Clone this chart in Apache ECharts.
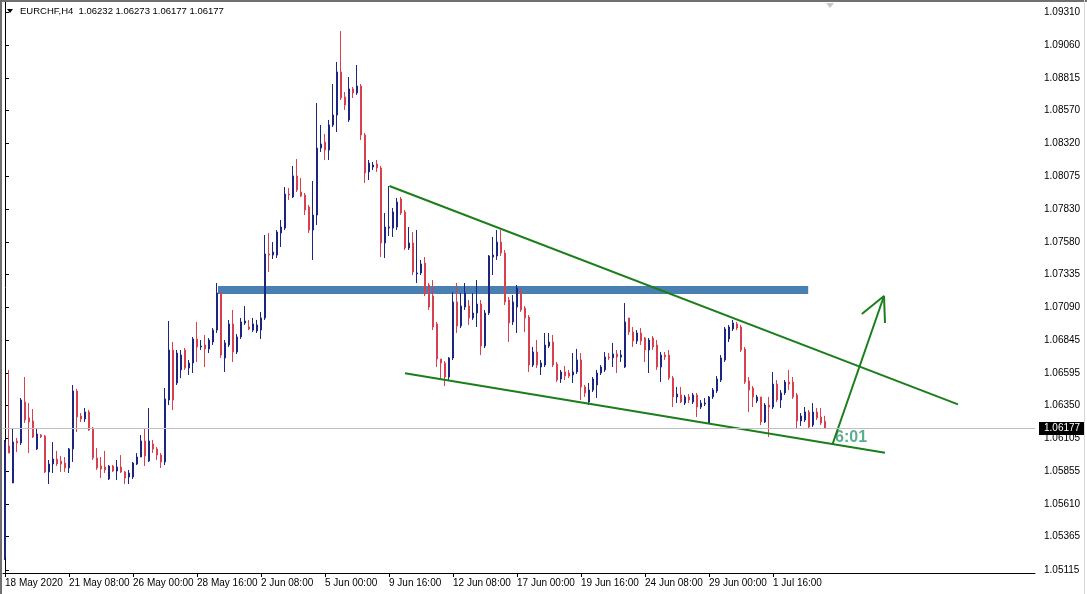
<!DOCTYPE html>
<html><head><meta charset="utf-8">
<script src="https://cdn.jsdelivr.net/npm/echarts@6/dist/echarts.min.js"></script>
<style>html,body{margin:0;padding:0;background:#fff}#c{width:1087px;height:594px}</style>
</head><body><div id="c"></div>
<script>
const symbolTitle = 'EURCHF,H4  1.06232 1.06273 1.06177 1.06177';
const countdownText = '6:01';
const opens = [1.05204,1.06046,1.05768,1.06084,1.06069,1.06377,1.06257,1.06234,1.06024,1.06129,
1.06121,1.05851,1.05911,1.05948,1.05933,1.05918,1.05881,1.06024,1.06460,1.06272,
1.06249,1.06302,1.06181,1.05956,1.05896,1.05888,1.05798,1.05896,1.05858,1.05888,
1.05851,1.05813,1.05813,1.05911,1.05963,1.06084,1.05933,1.06061,1.06024,1.05978,
1.05926,1.06392,1.06768,1.06520,1.06618,1.06768,1.06633,1.06670,1.06851,1.06791,
1.06806,1.06776,1.06828,1.06918,1.07197,1.06708,1.06806,1.06964,1.06753,1.06866,
1.06971,1.06941,1.06918,1.06911,1.06918,1.07009,1.07490,1.07482,1.07482,1.07648,
1.07685,1.07941,1.07919,1.08077,1.07956,1.07934,1.07843,1.07670,1.07783,1.08287,
1.08332,1.08272,1.08460,1.08535,1.08859,1.08671,1.08498,1.08731,1.08701,1.08753,
1.08385,1.08107,1.08144,1.08167,1.08137,1.07573,1.07685,1.07685,1.07693,1.07904,
1.07806,1.07535,1.07573,1.07340,1.07347,1.07422,1.07257,1.07174,1.06964,1.06700,
1.06670,1.06565,1.06708,1.07129,1.06949,1.07091,1.07099,1.07009,1.07046,1.07114,
1.06798,1.07046,1.07467,1.07475,1.07580,1.07497,1.07144,1.06979,1.07091,1.07204,
1.07084,1.07016,1.06655,1.06753,1.06640,1.06655,1.06798,1.06828,1.06663,1.06550,
1.06603,1.06595,1.06580,1.06603,1.06693,1.06490,1.06377,1.06467,1.06505,1.06595,
1.06618,1.06715,1.06708,1.06738,1.06715,1.06640,1.07009,1.06903,1.06836,1.06896,
1.06858,1.06768,1.06858,1.06806,1.06640,1.06730,1.06730,1.06557,1.06415,1.06430,
1.06369,1.06415,1.06377,1.06430,1.06339,1.06362,1.06219,1.06415,1.06460,1.06542,
1.06693,1.06851,1.06926,1.06964,1.06941,1.06776,1.06535,1.06482,1.06385,1.06415,
1.06227,1.06354,1.06339,1.06512,1.06392,1.06445,1.06527,1.06527,1.06430,1.06234,
1.06242,1.06302,1.06204,1.06302,1.06264,1.06232];
const closes = [1.06076,1.05993,1.06076,1.06069,1.06392,1.06242,1.06227,1.06114,1.06136,1.06114,
1.05851,1.05911,1.05948,1.05911,1.05911,1.05881,1.06024,1.06460,1.06264,1.06249,
1.06302,1.06166,1.05956,1.05881,1.05873,1.05866,1.05896,1.05858,1.05888,1.05851,
1.05805,1.05843,1.05918,1.05963,1.06084,1.05971,1.06084,1.06024,1.05978,1.05926,
1.06400,1.06768,1.06392,1.06745,1.06730,1.06633,1.06670,1.06851,1.06791,1.06798,
1.06776,1.06843,1.06918,1.07197,1.06730,1.06821,1.06964,1.06753,1.06866,1.06979,
1.06986,1.06926,1.06964,1.06956,1.07009,1.07490,1.07482,1.07505,1.07655,1.07693,
1.07941,1.07934,1.08077,1.07971,1.07926,1.07821,1.07670,1.07783,1.08287,1.08317,
1.08272,1.08460,1.08535,1.08859,1.08663,1.08610,1.08731,1.08701,1.08753,1.08385,
1.08099,1.08174,1.08159,1.08137,1.07573,1.07693,1.07693,1.07806,1.07881,1.07798,
1.07535,1.07573,1.07355,1.07347,1.07415,1.07189,1.07091,1.06941,1.06700,1.06670,
1.06565,1.06708,1.07129,1.06949,1.07099,1.07197,1.07009,1.07046,1.07114,1.06798,
1.07046,1.07475,1.07482,1.07580,1.07497,1.07129,1.06971,1.07129,1.07234,1.07069,
1.07009,1.06655,1.06753,1.06655,1.06670,1.06806,1.06828,1.06655,1.06542,1.06603,
1.06572,1.06572,1.06603,1.06693,1.06490,1.06445,1.06467,1.06550,1.06595,1.06640,
1.06715,1.06708,1.06738,1.06715,1.06730,1.06979,1.06903,1.06836,1.06896,1.06836,
1.06768,1.06843,1.06791,1.06640,1.06730,1.06715,1.06557,1.06415,1.06437,1.06377,
1.06415,1.06392,1.06430,1.06339,1.06369,1.06369,1.06415,1.06467,1.06550,1.06708,
1.06926,1.06941,1.06971,1.06933,1.06768,1.06527,1.06467,1.06415,1.06415,1.06227,
1.06354,1.06339,1.06512,1.06392,1.06445,1.06527,1.06512,1.06415,1.06234,1.06272,
1.06302,1.06189,1.06302,1.06257,1.06219,1.06177];
const lows = [1.05189,1.05993,1.05768,1.06001,1.06054,1.06219,1.05993,1.06106,1.06016,1.06106,
1.05843,1.05760,1.05843,1.05896,1.05851,1.05851,1.05843,1.05926,1.06151,1.06227,
1.06227,1.06159,1.05941,1.05866,1.05805,1.05843,1.05790,1.05851,1.05790,1.05843,
1.05760,1.05760,1.05798,1.05903,1.05963,1.05896,1.05926,1.05993,1.05941,1.05881,
1.05903,1.06354,1.06317,1.06505,1.06557,1.06618,1.06580,1.06595,1.06678,1.06768,
1.06640,1.06745,1.06806,1.06896,1.06708,1.06603,1.06791,1.06678,1.06738,1.06851,
1.06956,1.06918,1.06903,1.06896,1.06851,1.06994,1.07355,1.07452,1.07460,1.07543,
1.07670,1.07896,1.07911,1.07956,1.07919,1.07783,1.07648,1.07445,1.07708,1.08257,
1.08197,1.08197,1.08445,1.08407,1.08648,1.08573,1.08483,1.08663,1.08686,1.08347,
1.08024,1.08046,1.08122,1.08107,1.07467,1.07460,1.07625,1.07618,1.07670,1.07783,
1.07520,1.07520,1.07332,1.07272,1.07332,1.07174,1.07069,1.06918,1.06640,1.06550,
1.06497,1.06542,1.06693,1.06896,1.06933,1.07069,1.06956,1.06994,1.06941,1.06730,
1.06783,1.07031,1.07332,1.07445,1.07475,1.07106,1.06828,1.06956,1.06896,1.07054,
1.06903,1.06603,1.06640,1.06633,1.06580,1.06640,1.06783,1.06640,1.06527,1.06520,
1.06542,1.06557,1.06520,1.06588,1.06392,1.06415,1.06354,1.06452,1.06407,1.06580,
1.06603,1.06693,1.06640,1.06595,1.06678,1.06633,1.06881,1.06791,1.06813,1.06806,
1.06678,1.06595,1.06768,1.06618,1.06527,1.06693,1.06542,1.06339,1.06369,1.06369,
1.06354,1.06369,1.06362,1.06264,1.06324,1.06347,1.06212,1.06400,1.06445,1.06527,
1.06678,1.06828,1.06911,1.06918,1.06753,1.06512,1.06302,1.06339,1.06369,1.06204,
1.06219,1.06114,1.06324,1.06377,1.06332,1.06430,1.06467,1.06400,1.06174,1.06197,
1.06227,1.06181,1.06189,1.06242,1.06204,1.06177];
const highs = [1.06091,1.06618,1.06181,1.06106,1.06407,1.06565,1.06369,1.06324,1.06174,1.06136,
1.06129,1.05941,1.06076,1.06009,1.05971,1.05963,1.06031,1.06505,1.06475,1.06294,
1.06332,1.06317,1.06189,1.06031,1.05963,1.06009,1.05903,1.05903,1.05941,1.05978,
1.05858,1.05866,1.05926,1.05993,1.06129,1.06174,1.06332,1.06091,1.06039,1.05993,
1.06482,1.06986,1.06828,1.06768,1.06768,1.06783,1.06693,1.06866,1.06979,1.06843,
1.06881,1.06858,1.06933,1.07272,1.07204,1.06843,1.06994,1.07069,1.06888,1.07009,
1.07099,1.06994,1.07009,1.06994,1.07054,1.07633,1.07648,1.07580,1.07670,1.07746,
1.07994,1.07986,1.08152,1.08204,1.08061,1.07949,1.07858,1.08039,1.08625,1.08460,
1.08392,1.08498,1.08768,1.08934,1.09167,1.08708,1.08821,1.08746,1.08911,1.08768,
1.08400,1.08197,1.08182,1.08197,1.08152,1.07798,1.08001,1.07836,1.07911,1.07919,
1.07821,1.07693,1.07655,1.07670,1.07445,1.07467,1.07272,1.07294,1.06979,1.06700,
1.06685,1.06715,1.07204,1.07272,1.07197,1.07272,1.07144,1.07197,1.07294,1.07144,
1.07069,1.07482,1.07618,1.07670,1.07670,1.07520,1.07167,1.07182,1.07257,1.07234,
1.07099,1.07031,1.06791,1.06843,1.06693,1.06896,1.06896,1.06881,1.06678,1.06618,
1.06648,1.06618,1.06745,1.06776,1.06745,1.06505,1.06520,1.06565,1.06618,1.06655,
1.06753,1.06745,1.06821,1.06768,1.06768,1.07121,1.07009,1.06941,1.06918,1.06933,
1.06866,1.06858,1.06873,1.06843,1.06753,1.06753,1.06768,1.06572,1.06490,1.06490,
1.06430,1.06437,1.06445,1.06445,1.06392,1.06407,1.06422,1.06482,1.06572,1.06730,
1.06941,1.06956,1.06994,1.06979,1.06956,1.06791,1.06565,1.06497,1.06430,1.06415,
1.06369,1.06415,1.06603,1.06542,1.06467,1.06542,1.06618,1.06565,1.06445,1.06294,
1.06339,1.06317,1.06369,1.06332,1.06332,1.06273];
const yTickLabels = ['1.05115','1.05365','1.05610','1.05855','1.06105','1.06350','1.06595','1.06845','1.07090',
'1.07335','1.07580','1.07830','1.08075','1.08320','1.08570','1.08815','1.09060','1.09310'];
const xTickLabels = ['18 May 2020','21 May 08:00','26 May 00:00','28 May 16:00','2 Jun 08:00','5 Jun 00:00',
'9 Jun 16:00','12 Jun 08:00','17 Jun 00:00','19 Jun 16:00','24 Jun 08:00','29 Jun 00:00','1 Jul 16:00'];
// drawn objects: [bar index, price]
const resistanceBand = [[53.25, 1.07219], [200.8, 1.07219]];
const upperTrend = [[96.1, 1.08001], [238.25, 1.06359]];
const lowerTrend = [[100, 1.06593], [220, 1.05996]];
const arrowShaft = [[206.9, 1.06061], [219.75, 1.07174]];
const arrowHead = [[214.2, 1.07039], [219.75, 1.07174], [220.0, 1.06971]];

const BULL = '#1c2580', BEAR = '#d8404f', GREEN = '#1a7f1a';
const FONT = 'Liberation Sans';
const MONTHS = ['Jan','Feb','Mar','Apr','May','Jun','Jul','Aug','Sep','Oct','Nov','Dec'];
const totalSlots = 258;
const categories = [];
let t = Date.UTC(2020, 4, 18, 16);
while (categories.length < totalSlots) {
  const d = new Date(t);
  const wd = d.getUTCDay();
  if (wd !== 0 && wd !== 6) {
    const base = d.getUTCDate() + ' ' + MONTHS[d.getUTCMonth()] + ' ';
    categories.push(categories.length === 0 ? base + d.getUTCFullYear()
      : base + String(d.getUTCHours()).padStart(2, '0') + ':00');
  }
  t += 4 * 3600 * 1000;
}
const lastPrice = closes[closes.length - 1];
const showX = (i, v) => xTickLabels.indexOf(categories[i]) >= 0;
const lineSeries = (data, width, z) => ({
  type: 'line', xAxisIndex: 1, yAxisIndex: 0, data, symbol: 'none', silent: true,
  animation: false, z, lineStyle: {color: GREEN, width, cap: 'butt'}
});

const chart = echarts.init(document.getElementById('c'), null, {renderer: 'canvas'});
chart.setOption({
  animation: false,
  backgroundColor: '#fff',
  grid: {left: 3, right: 52, top: 2, bottom: 21, containLabel: false},
  xAxis: [{
    type: 'category', data: categories, boundaryGap: true,
    axisLine: {lineStyle: {color: '#000', width: 1}},
    axisTick: {show: true, alignWithLabel: true, interval: showX, length: 4, lineStyle: {color: '#000'}},
    axisLabel: {interval: showX, align: 'left', margin: 5, color: '#000', fontSize: 10, fontFamily: FONT},
    splitLine: {show: false}
  }, {
    type: 'value', min: -0.5, max: totalSlots - 0.5, show: false
  }],
  yAxis: [{
    type: 'value', position: 'right', min: 1.05091, max: 1.09385, scale: true,
    axisLine: {show: true, lineStyle: {color: '#000', width: 1}},
    axisTick: {show: true, length: 4, customValues: yTickLabels.map(Number), lineStyle: {color: '#000'}},
    axisLabel: {customValues: yTickLabels.map(Number), formatter: v => v.toFixed(5), margin: 9,
      padding: [2, 0, 0, 0], color: '#000', fontSize: 10, fontFamily: FONT},
    splitLine: {show: false}
  }],
  series: [
    {
      type: 'line', xAxisIndex: 1, yAxisIndex: 0, data: resistanceBand, symbol: 'none', silent: true,
      z: 1, lineStyle: {color: '#4a7fb2', width: 8, cap: 'butt'},
      markLine: {
        symbol: ['none', 'none'], silent: true, animation: false, precision: 5,
        data: [{yAxis: lastPrice}],
        lineStyle: {color: '#c0c0c0', width: 1, type: 'solid'},
        label: {show: true, position: 'end', distance: 4, formatter: lastPrice.toFixed(5),
          color: '#fff', backgroundColor: '#000', padding: [2, 4, 1, 5], fontSize: 10, fontFamily: FONT}
      }
    },
    {
      type: 'candlestick', xAxisIndex: 0, yAxisIndex: 0, barWidth: 2.4, z: 2,
      data: opens.map((o, i) => [o, closes[i], lows[i], highs[i]]),
      itemStyle: {color: BULL, color0: BEAR, borderColor: BULL, borderColor0: BEAR, borderWidth: 1}
    },
    lineSeries(upperTrend, 2, 3),
    lineSeries(lowerTrend, 2, 3),
    lineSeries(arrowShaft, 2, 3),
    lineSeries(arrowHead, 2, 3)
  ],
  graphic: [
    {type: 'line', shape: {x1: 1, y1: 0, x2: 1, y2: 594}, style: {stroke: '#707070', lineWidth: 2}, z: 10},
    {type: 'line', shape: {x1: 0, y1: 1, x2: 1087, y2: 1}, style: {stroke: '#707070', lineWidth: 2}, z: 10},
    {type: 'line', shape: {x1: 1084.5, y1: 0, x2: 1084.5, y2: 594}, style: {stroke: '#d8d8d8', lineWidth: 1}, z: 10},
    {type: 'polygon', shape: {points: [[7, 9], [13, 9], [10, 13]]}, style: {fill: '#000'}, z: 10},
    {type: 'polygon', shape: {points: [[826, 3], [834, 3], [830, 8]]}, style: {fill: '#c8c8c8'}, z: 10},
    {type: 'text', left: 20, top: 6, style: {text: symbolTitle, fill: '#000', font: '9.5px "Liberation Sans"'}, z: 10},
    {type: 'text', left: 835, top: 430, style: {text: countdownText, fill: '#5aae8c', font: 'bold 16px "Liberation Sans"'}, z: 0}
  ]
});
</script>
</body></html>
